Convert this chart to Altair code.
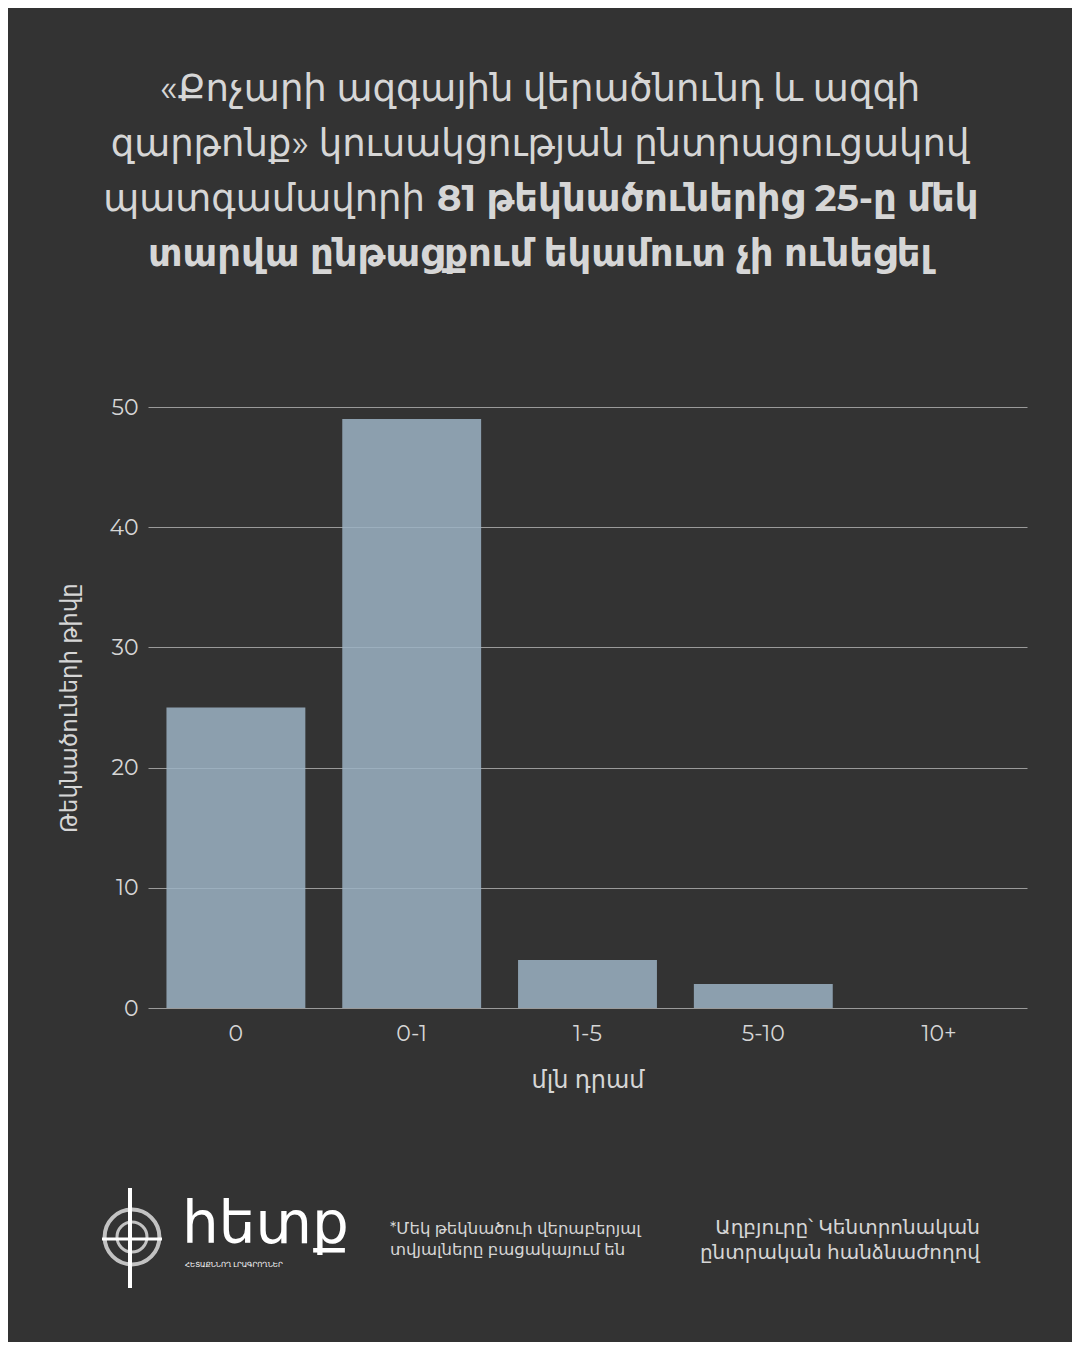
import altair as alt
import pandas as pd

# ---- data ----
categories = ["0", "0-1", "1-5", "5-10", "10+"]
counts = [25, 49, 4, 2, 0]
y_ticks = [0, 10, 20, 30, 40, 50]

title_line1 = "«Քոչարի ազգային վերածնունդ և ազգի"
title_line2 = "զարթոնք» կուսակցության ընտրացուցակով"
title_line3_regular = "պատգամավորի"
title_line3_bold = "81 թեկնածուներից 25-ը մեկ"
title_line4_bold = "տարվա ընթացքում եկամուտ չի ունեցել"
x_title = "մլն դրամ"
y_title = "Թեկնածուների թիվը"
footnote = ["*Մեկ թեկնածուի վերաբերյալ", "տվյալները բացակայում են"]
source = ["Աղբյուրը՝ Կենտրոնական", "ընտրական հանձնաժողով"]
logo_text = "հետք"
logo_sub = "ՀԵՏԱՔՆՆՈՂ ԼՐԱԳՐՈՂՆԵՐ"

df = pd.DataFrame({"cat": categories, "n": counts})

FONT = "Montserrat, Inter, DejaVu Sans"
BG = "#333333"
TXT = "#d6d6d6"

W, H = 879, 601


def txt(s, x, y, size, weight="normal", align="center", color=TXT, baseline="middle"):
    return alt.Chart(pd.DataFrame({"t": [s]})).mark_text(
        align=align, baseline=baseline, fontSize=size, fontWeight=weight,
        color=color, font=FONT
    ).encode(text="t:N", x=alt.value(x), y=alt.value(y))


bars = alt.Chart(df).mark_bar(color="#9cb3c4", opacity=0.85).encode(
    x=alt.X("cat:N", sort=categories,
            scale=alt.Scale(paddingInner=0.21, paddingOuter=0.105),
            axis=alt.Axis(title=x_title, labelAngle=0, ticks=False, domain=False,
                          labelPadding=15, titlePadding=24, labelFontSize=22,
                          titleFontSize=24, labelColor=TXT, titleColor=TXT,
                          labelFont=FONT, titleFont=FONT, titleFontWeight="normal",
                          grid=False)),
    y=alt.Y("n:Q", scale=alt.Scale(domain=[0, 50], nice=False),
            axis=alt.Axis(title=y_title, values=y_ticks, ticks=False, domain=False,
                          grid=True, gridColor="#9a9a9a", gridWidth=1.2,
                          labelPadding=10, titlePadding=27, labelFontSize=22,
                          titleFontSize=23, labelColor=TXT, titleColor=TXT,
                          labelFont=FONT, titleFont=FONT, titleFontWeight="normal")),
)

cx = 540 - 148
layers = [
    bars,
    txt(title_line1, cx, -317, 37),
    txt(title_line2, cx, -262, 37),
    txt(title_line3_regular, 277, -207, 37, align="right"),
    txt(title_line3_bold, 289, -207, 37, weight="bold", align="left"),
    txt(title_line4_bold, cx, -152, 37, weight="bold"),
    txt(footnote[0], 242, 822, 16.5, align="left"),
    txt(footnote[1], 242, 843, 16.5, align="left"),
    txt(source[0], 832, 821, 20, align="right"),
    txt(source[1], 832, 846, 20, align="right"),
    txt(logo_text, 34, 836, 58, align="left", color="#ffffff", baseline="alphabetic"),
    txt(logo_sub, 37, 858, 7, align="left", color="#ffffff"),
    # logo icon
    alt.Chart(pd.DataFrame({"a": [0]})).mark_point(
        shape="circle", filled=False, color="#ffffff", strokeWidth=4, size=3000
    ).encode(x=alt.value(-16), y=alt.value(830)),
    alt.Chart(pd.DataFrame({"a": [0]})).mark_point(
        shape="circle", filled=False, color="#ffffff", strokeWidth=3, size=900
    ).encode(x=alt.value(-16), y=alt.value(830)),
    alt.Chart(pd.DataFrame({"a": [0]})).mark_rule(color="#ffffff", strokeWidth=4).encode(
        x=alt.value(-18), y=alt.value(781), y2=alt.value(881)),
    alt.Chart(pd.DataFrame({"a": [0]})).mark_rule(color="#ffffff", strokeWidth=3).encode(
        x=alt.value(-46), x2=alt.value(14), y=alt.value(832)),
]

chart = alt.layer(*layers).properties(
    width=W, height=H,
    background=BG,
    padding={"left": 140, "top": 399, "right": 45, "bottom": 334},
    autosize=alt.AutoSizeParams(type="none"),
).configure_view(stroke=None)

chart.save("out.html", embed_options={"renderer": "svg", "actions": False})
